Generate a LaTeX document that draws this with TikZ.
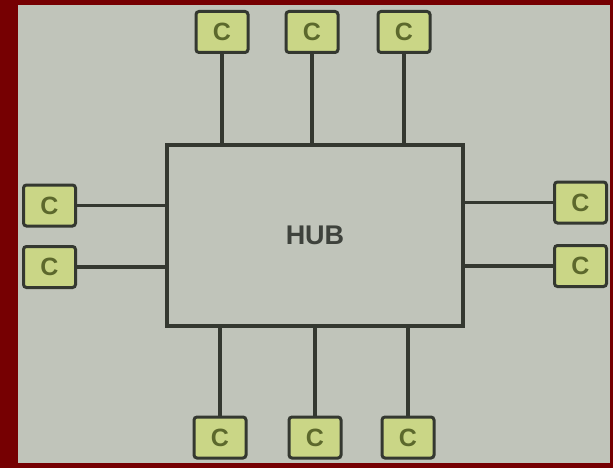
\documentclass[tikz,border=0pt]{standalone}
\usepackage{fontspec}
\setmainfont{Liberation Sans}
\usepackage{tikz}
\usetikzlibrary{calc}
\definecolor{clrFrame}{RGB}{118,0,2}
\definecolor{clrPanel}{RGB}{192,196,186}
\definecolor{clrLine}{RGB}{52,56,48}
\definecolor{clrCfill}{RGB}{202,214,134}
\definecolor{clrCtext}{RGB}{92,104,44}
\definecolor{clrHubtext}{RGB}{62,66,60}
\tikzset{
  hubnode/.style={draw=clrLine, fill=clrPanel, line width=3.6pt, minimum width=296pt, minimum height=181pt, inner sep=0pt},
  cnode/.style={draw=clrLine, fill=clrCfill, rounded corners=3pt, line width=3pt, minimum width=52pt, minimum height=41pt, inner sep=0pt, text=clrCtext, font=\fontsize{25}{27}\selectfont\bfseries},
  link/.style={draw=clrLine, line width=3.8pt}
}
\begin{document}
\begin{tikzpicture}[x=1pt, y=-1pt]

% frame and panel
\fill[clrFrame] (0,0) rectangle (613,468);
\fill[clrPanel] (18,5) rectangle (610,463);
\useasboundingbox (0,0) rectangle (613,468);

\node[hubnode, text=clrHubtext, font=\fontsize{27}{30}\selectfont\bfseries] (hub) at (315,235.5) {HUB};

% clients on top
\node[cnode] (top1) at (222,32) {C};
\node[cnode] (top2) at (312,32) {C};
\node[cnode] (top3) at (404,32) {C};

% clients on the left
\node[cnode] (left1) at (49.5,205.5) {C};
\node[cnode] (left2) at (49.5,267) {C};

% clients on the right
\node[cnode] (right1) at (580.5,202.5) {C};
\node[cnode] (right2) at (580.5,266) {C};

% clients at the bottom
\node[cnode] (bot1) at (220,437.5) {C};
\node[cnode] (bot2) at (315,437.5) {C};
\node[cnode] (bot3) at (408,437.5) {C};

\draw[link] (top1) -- (top1 |- hub.north);
\draw[link] (top2) -- (top2 |- hub.north);
\draw[link] (top3) -- (top3 |- hub.north);
\draw[link] (left1) -- (left1 -| hub.west);
\draw[link] (left2) -- (left2 -| hub.west);
\draw[link] (right1) -- (right1 -| hub.east);
\draw[link] (right2) -- (right2 -| hub.east);
\draw[link] (bot1) -- (bot1 |- hub.south);
\draw[link] (bot2) -- (bot2 |- hub.south);
\draw[link] (bot3) -- (bot3 |- hub.south);

\end{tikzpicture}
\end{document}
